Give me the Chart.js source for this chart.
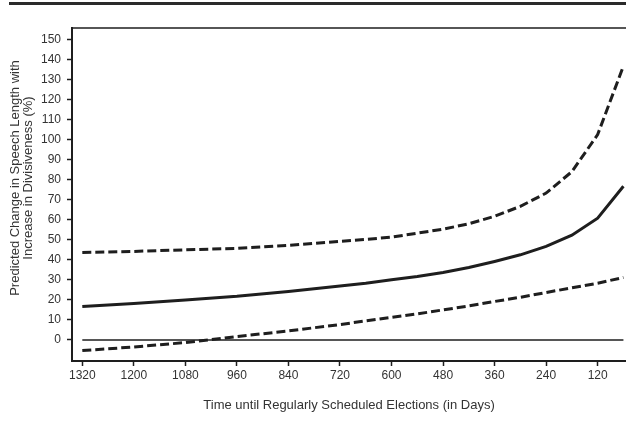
<!DOCTYPE html>
<html>
<head>
<meta charset="utf-8">
<script src="https://cdn.jsdelivr.net/npm/chart.js@4/dist/chart.umd.min.js"></script>
<style>
  html, body { margin: 0; padding: 0; background: #fff; }
  #wrap { width: 626px; height: 434px; }
</style>
</head>
<body>
<div id="wrap"><canvas id="speechChart" width="626" height="434"></canvas></div>
<script>
// days until election (x), predicted change in % (y)
var days = [1320, 1200, 1080, 960, 840, 720, 660, 600, 540, 480, 420, 360, 300, 240, 180, 120, 60];
var upperCI = [43.7, 44.2, 45, 45.7, 47.2, 49.2, 50.2, 51.3, 53.3, 55.3, 58, 61.7, 66.7, 73.3, 84, 102.5, 136.7];
var estimate = [16.7, 18.2, 20, 21.8, 24.2, 26.9, 28.3, 30, 31.7, 33.7, 36.2, 39.2, 42.5, 46.7, 52.3, 60.8, 76.7];
var lowerCI = [-5.3, -3.5, -1.3, 1.7, 4.5, 7.7, 9.5, 11.3, 13, 15, 17, 19.2, 21.3, 23.7, 26, 28.3, 31.2];
var xTicks = [1320, 1200, 1080, 960, 840, 720, 600, 480, 360, 240, 120];
var yTicks = [0, 10, 20, 30, 40, 50, 60, 70, 80, 90, 100, 110, 120, 130, 140, 150];
var yTitle = ["Predicted Change in Speech Length with", "Increase in Divisiveness (%)"];

function pts(ys) {
  return days.map(function (d, i) { return { x: d, y: ys[i] }; });
}

var ink = "#1e1e1e";
var fontFamily = "Liberation Sans, Arial, sans-serif";

// thick rule at the top, top border of the plot box, y axis title
var framePlugin = {
  id: "frame",
  afterDraw: function (chart) {
    var c = chart.ctx, a = chart.chartArea;
    c.save();
    c.strokeStyle = "#2a2a2a";
    c.lineWidth = 3;
    c.beginPath();
    c.moveTo(9, 3.5);
    c.lineTo(626, 3.5);
    c.stroke();
    c.lineWidth = 1.5;
    c.strokeStyle = ink;
    c.beginPath();
    c.moveTo(a.left - 1, a.top);
    c.lineTo(a.right, a.top);
    c.stroke();

    c.translate(15, 178);
    c.rotate(-Math.PI / 2);
    c.fillStyle = "#333";
    c.font = "13px " + fontFamily;
    c.textAlign = "center";
    c.textBaseline = "middle";
    yTitle.forEach(function (t, i) { c.fillText(t, 0, i * 13.5); });
    c.restore();
  }
};

var ctx = document.getElementById("speechChart").getContext("2d");
var speechChart = new Chart(ctx, {
  type: "line",
  data: {
    datasets: [
      {
        data: [{ x: days[0], y: 0 }, { x: days[days.length - 1], y: 0 }],
        borderColor: ink,
        borderWidth: 1.6,
        pointRadius: 0
      },
      {
        data: pts(upperCI),
        borderColor: ink,
        borderWidth: 3,
        borderDash: [9, 4],
        pointRadius: 0
      },
      {
        data: pts(estimate),
        borderColor: ink,
        borderWidth: 3,
        pointRadius: 0
      },
      {
        data: pts(lowerCI),
        borderColor: ink,
        borderWidth: 3,
        borderDash: [9, 4],
        pointRadius: 0
      }
    ]
  },
  options: {
    responsive: false,
    animation: false,
    layout: { padding: { top: 28, right: 0, bottom: 0, left: 0 } },
    plugins: { legend: { display: false }, tooltip: { enabled: false } },
    scales: {
      x: {
        type: "linear",
        reverse: true,
        min: 54,
        max: 1344,
        afterBuildTicks: function (s) {
          s.ticks = xTicks.map(function (v) { return { value: v }; });
        },
        afterFit: function (s) { s.height = 73; },
        grid: { drawOnChartArea: false, tickLength: 5, tickWidth: 1.5, tickColor: ink },
        border: { color: ink, width: 2 },
        ticks: {
          color: "#333",
          padding: 2,
          callback: function (v) { return String(v); },
          font: { family: fontFamily, size: 12 }
        },
        title: {
          display: true,
          text: "Time until Regularly Scheduled Elections (in Days)",
          color: "#333",
          padding: { top: 0, bottom: 21 },
          font: { family: fontFamily, size: 13 }
        }
      },
      y: {
        min: -10.5,
        max: 155.7,
        afterBuildTicks: function (s) {
          s.ticks = yTicks.map(function (v) { return { value: v }; });
        },
        afterFit: function (s) { s.width = 72; },
        grid: { drawOnChartArea: false, tickLength: 5, tickWidth: 1.5, tickColor: ink },
        border: { color: ink, width: 2 },
        ticks: {
          color: "#333",
          padding: 6,
          font: { family: fontFamily, size: 12 }
        }
      }
    }
  },
  plugins: [framePlugin]
});
</script>
</body>
</html>
